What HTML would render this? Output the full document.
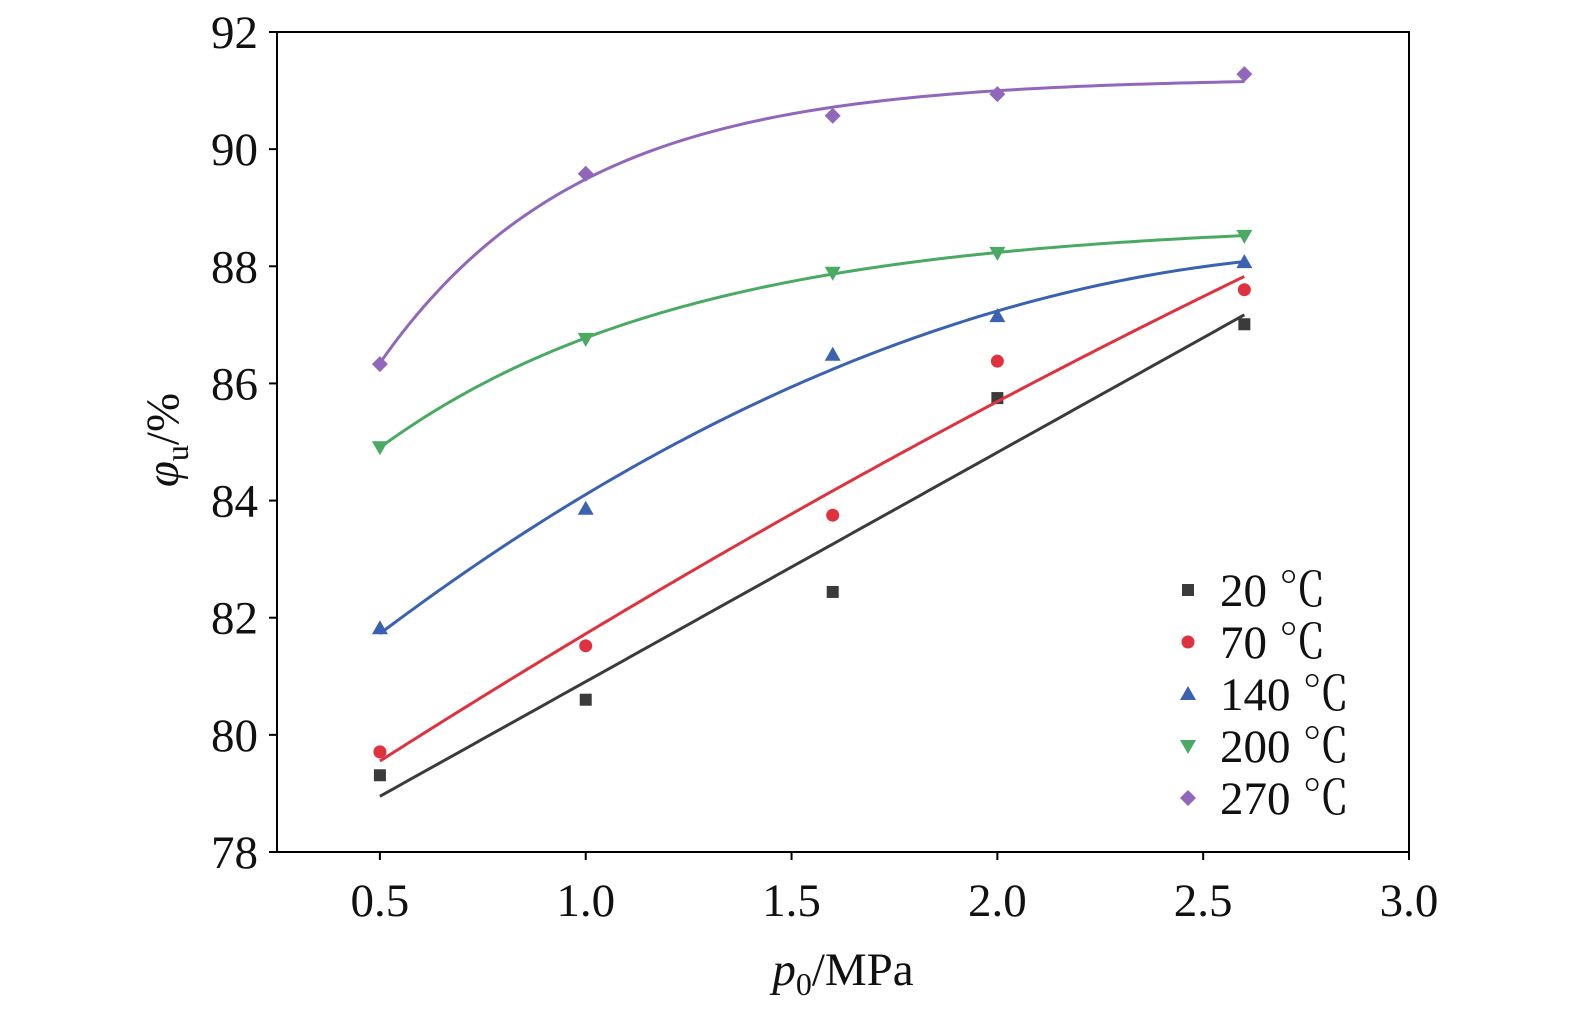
<!DOCTYPE html>
<html><head><meta charset="utf-8">
<style>
html,body{margin:0;padding:0;background:#fff;}
svg{display:block;font-family:"Liberation Serif","Noto Serif CJK SC",serif;}
</style></head>
<body>
<svg id="chart" width="1582" height="1024" viewBox="0 0 1582 1024"></svg>
<script>
const xTicks=[0.5,1.0,1.5,2.0,2.5,3.0];
const xTickLabels=["0.5","1.0","1.5","2.0","2.5","3.0"];
const yTicks=[78,80,82,84,86,88,90,92];
const xs=[0.5,1.0,1.6,2.0,2.6];
const seriesNames=["20 ℃","70 ℃","140 ℃","200 ℃","270 ℃"];
const s20=[79.31,80.6,82.44,85.75,87.01];
const s70=[79.71,81.52,83.75,86.38,87.6];
const s140=[81.82,83.86,86.49,87.15,88.07];
const s200=[84.91,86.76,87.89,88.23,88.52];
const s270=[86.33,89.58,90.57,90.94,91.28];
const fitTypes=["linear","quad","quad","exp","exp"];
const colors=["#3b3b3b","#e0313f","#3a62b0","#4aaa64","#9067bb"];
const shapes=["square","circle","tri","tridown","diamond"];

const L=277,R=1409,T=32,B=852;
const xMin=0.25,xMax=3.0,yMin=78,yMax=92;
const X=v=>L+(v-xMin)/(xMax-xMin)*(R-L);
const Y=v=>B-(v-yMin)/(yMax-yMin)*(B-T);
const svg=document.getElementById('chart');
const NS="http://www.w3.org/2000/svg";
function mk(tag,attrs,parent){const e=document.createElementNS(NS,tag);for(const k in attrs)e.setAttribute(k,attrs[k]);(parent||svg).appendChild(e);return e;}

// least-squares helpers
function solve(A,b){const n=b.length;A=A.map((r,i)=>[...r,b[i]]);
  for(let i=0;i<n;i++){let m=i;for(let j=i+1;j<n;j++)if(Math.abs(A[j][i])>Math.abs(A[m][i]))m=j;[A[i],A[m]]=[A[m],A[i]];
    for(let j=0;j<n;j++)if(j!==i){const f=A[j][i]/A[i][i];for(let k=i;k<=n;k++)A[j][k]-=f*A[i][k];}}
  return A.map((r,i)=>r[n]/r[i]);}
function lsq(basis,x,y){const m=basis.length;const A=[...Array(m)].map(()=>Array(m).fill(0)),b=Array(m).fill(0);
  x.forEach((xi,k)=>{const f=basis.map(g=>g(xi));for(let i=0;i<m;i++){b[i]+=f[i]*y[k];for(let j=0;j<m;j++)A[i][j]+=f[i]*f[j];}});
  const c=solve(A,b);let err=0;x.forEach((xi,k)=>{const v=basis.reduce((s,g,i)=>s+c[i]*g(xi),0);err+=(v-y[k])**2;});
  return {f:xx=>basis.reduce((s,g,i)=>s+c[i]*g(xx),0),err};}
function fitModel(type,x,y){
  if(type==='linear')return lsq([()=>1,t=>t],x,y).f;
  if(type==='quad')return lsq([()=>1,t=>t,t=>t*t],x,y).f;
  let best=null;
  for(let c=0.2;c<12;c+=0.01){const r=lsq([()=>1,t=>Math.exp(-c*t)],x,y);if(!best||r.err<best.err)best=r;}
  return best.f;
}

const frame=mk('rect',{x:L,y:T,width:R-L,height:B-T,fill:'none',stroke:'#000','stroke-width':2});



xTicks.forEach((t,i)=>{
  const tk=mk('line',{x1:X(t),x2:X(t),y1:B,y2:B+8,stroke:'#000','stroke-width':2});
  
  
  const tx=mk('text',{x:X(t),y:B+64,'text-anchor':'middle','font-size':47,fill:'#111'});
  tx.textContent=xTickLabels[i];
  
  
});
yTicks.forEach(t=>{
  const tk=mk('line',{x1:L-8,x2:L,y1:Y(t),y2:Y(t),stroke:'#000','stroke-width':2});
  
  
  const tx=mk('text',{x:258,y:Y(t)+16,'text-anchor':'end','font-size':47,fill:'#111'});
  tx.textContent=String(t);
  
  
});

const xt=mk('text',{x:843,y:985,'text-anchor':'middle','font-size':47,fill:'#111'});
xt.innerHTML='<tspan font-style="italic">p</tspan><tspan font-size="32" dy="10">0</tspan><tspan dy="-10">/MPa</tspan>';


const yt=mk('text',{x:0,y:0,'text-anchor':'middle','font-size':47,fill:'#111',transform:'translate(178,440) rotate(-90)'});
yt.innerHTML='<tspan font-style="italic">φ</tspan><tspan font-size="32" dy="10">u</tspan><tspan dy="-10">/%</tspan>';



function marker(shape,cx,cy,color,g){
  let e;
  if(shape==='square')e=mk('rect',{x:cx-6,y:cy-6,width:12,height:12,fill:color},g);
  else if(shape==='circle')e=mk('circle',{cx:cx,cy:cy,r:6.5,fill:color},g);
  else if(shape==='tri')e=mk('polygon',{points:`${cx},${cy-8} ${cx-8},${cy+6} ${cx+8},${cy+6}`,fill:color},g);
  else if(shape==='tridown')e=mk('polygon',{points:`${cx},${cy+8} ${cx-8},${cy-6} ${cx+8},${cy-6}`,fill:color},g);
  else e=mk('polygon',{points:`${cx},${cy-8} ${cx+8},${cy} ${cx},${cy+8} ${cx-8},${cy}`,fill:color},g);
  return e;
}
const allS=[s20,s70,s140,s200,s270];
allS.forEach((s,k)=>{
  const g=mk('g',{});
  
  
  const f=fitModel(fitTypes[k],xs,s);
  const x0=xs[0],x1=xs[xs.length-1];
  let d='';
  for(let i=0;i<=120;i++){const xv=x0+(x1-x0)*i/120;d+=(i?'L':'M')+X(xv).toFixed(2)+','+Y(f(xv)).toFixed(2);}
  const ln=mk('path',{d:d,fill:'none',stroke:colors[k],'stroke-width':3},g);
  
  
  s.forEach((v,i)=>{
    const m=marker(shapes[k],X(xs[i]),Y(v),colors[k],g);
    
    
  });
});
const lg=mk('g',{});


seriesNames.forEach((n,k)=>{
  const cy=590+k*52;
  const g=mk('g',{},lg);
  
  
  marker(shapes[k],1188,cy,colors[k],g);
  const t=mk('text',{x:1220,y:cy+16,'font-size':47,fill:'#111'},g);
  t.textContent=n;
});
</script>
</body></html>
